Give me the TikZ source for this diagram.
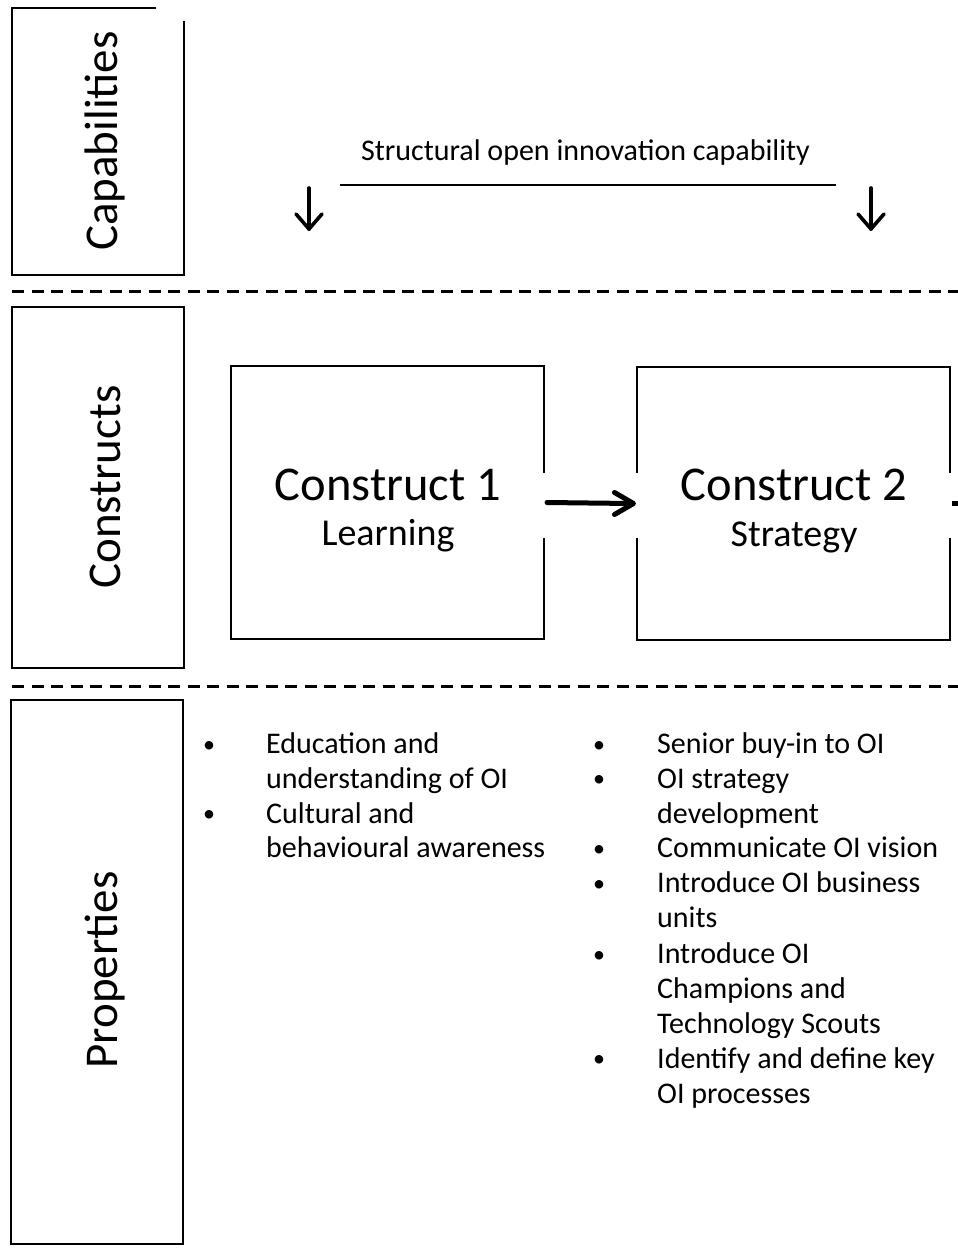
\documentclass[tikz,border=0pt]{standalone}
\usepackage{fontspec}
\setmainfont{Carlito}
\usetikzlibrary{arrows.meta}
\newcommand{\bul}{\raisebox{1.5pt}{\fontsize{24}{24}\selectfont\textbullet}}
\tikzset{
  frame/.style={draw=black,line width=2.2pt},
  sepline/.style={line width=3pt,dash pattern=on 12pt off 7.5pt},
  rowlabel/.style={rotate=90,font=\fontsize{47}{56}\selectfont,inner sep=0pt},
  cbox/.style={draw=black,line width=2pt,minimum width=313pt,minimum height=273pt,inner sep=0pt},
  bigtxt/.style={font=\fontsize{48.5}{58}\selectfont,inner sep=0pt,anchor=base},
  subtxt/.style={font=\fontsize{38}{46}\selectfont,inner sep=0pt,anchor=base},
  listtxt/.style={font=\fontsize{30}{34.8}\selectfont,inner sep=0pt,anchor=north west,align=left},
  arrline/.style={line width=3.6pt,line cap=round,line join=round},
  bigarr/.style={line width=5pt,line cap=round,line join=round},
}
\begin{document}
\begin{tikzpicture}[x=1pt,y=-1pt]
\useasboundingbox (0,0) rectangle (958,1256);
\fill[white] (0,0) rectangle (958,1256);
% left panels
\draw[frame] (156,8) -- (12,8) -- (12,275) -- (184,275) -- (184,21);
\node[frame,minimum width=172pt,minimum height=361pt,inner sep=0pt] (consbox) at (98,487.5) {};
\node[frame,minimum width=172pt,minimum height=544pt,inner sep=0pt] (propbox) at (97,972) {};
\node[rowlabel] (caplab) at (105,141) {Capabilities};
\node[rowlabel] (conslab) at (105,487) {Constructs};
\node[rowlabel] (proplab) at (105,970) {Properties};
% separators
\coordinate (s1a) at (12,291); \coordinate (s1b) at (958,291);
\coordinate (s2a) at (12,686); \coordinate (s2b) at (958,686);
\draw[sepline] (s1a) -- (s1b);
\draw[sepline] (s2a) -- (s2b);
% capability
\node[font=\fontsize{30}{36}\selectfont,inner sep=0pt,anchor=base] (struct) at (585.5,160) {Structural open innovation capability};
\coordinate (hl1) at (340,185); \coordinate (hl2) at (836,185);
\draw[line width=2.8pt] (hl1) -- (hl2);
\coordinate (da1) at (309,188); \coordinate (da1e) at (309,229);
\coordinate (da2) at (871,188); \coordinate (da2e) at (871,229);
\draw[arrline] (da1) -- (da1e);
\draw[arrline] ([shift={(-13,-15)}]da1e) -- (da1e) -- ([shift={(13,-15)}]da1e);
\draw[arrline] (da2) -- (da2e);
\draw[arrline] ([shift={(-13,-15)}]da2e) -- (da2e) -- ([shift={(13,-15)}]da2e);
% constructs
\node[cbox] (c1) at (387.5,502.5) {};
\node[cbox] (c2) at (793,503.5) {};
\fill[white] (540,473) rectangle (958,538);
\draw[bigarr] ([xshift=2pt]c1.east) -- ([xshift=-4pt]c2.west);
\draw[bigarr] ([shift={(-21,-11)}]c2.west) -- ([xshift=-2pt]c2.west) -- ([shift={(-21,11)}]c2.west);
\coordinate (stub) at (960,503.5);
\draw[line width=5pt] ([xshift=1pt]c2.east) -- (stub);
\node[bigtxt] (c1t) at (388,500) {Construct 1};
\node[subtxt] (c1s) at (388,545) {Learning};
\node[bigtxt] (c2t) at (794,500) {Construct 2};
\node[subtxt] (c2s) at (794,546) {Strategy};
% properties
\node[listtxt] (l1) at (203,729) {%
\begin{tabular}{@{}p{63pt}@{}l@{}}
\bul & Education and\\
 & understanding of OI\\
\bul & Cultural and\\
 & behavioural awareness
\end{tabular}};
\node[listtxt] (l2) at (593,729) {%
\begin{tabular}{@{}p{64pt}@{}l@{}}
\bul & Senior buy-in to OI\\
\bul & OI strategy\\
 & development\\
\bul & Communicate OI vision\\
\bul & Introduce OI business\\
 & units\\[1.5pt]
\bul & Introduce OI\\
 & Champions and\\
 & Technology Scouts\\
\bul & Identify and define key\\
 & OI processes
\end{tabular}};
\end{tikzpicture}
\end{document}
